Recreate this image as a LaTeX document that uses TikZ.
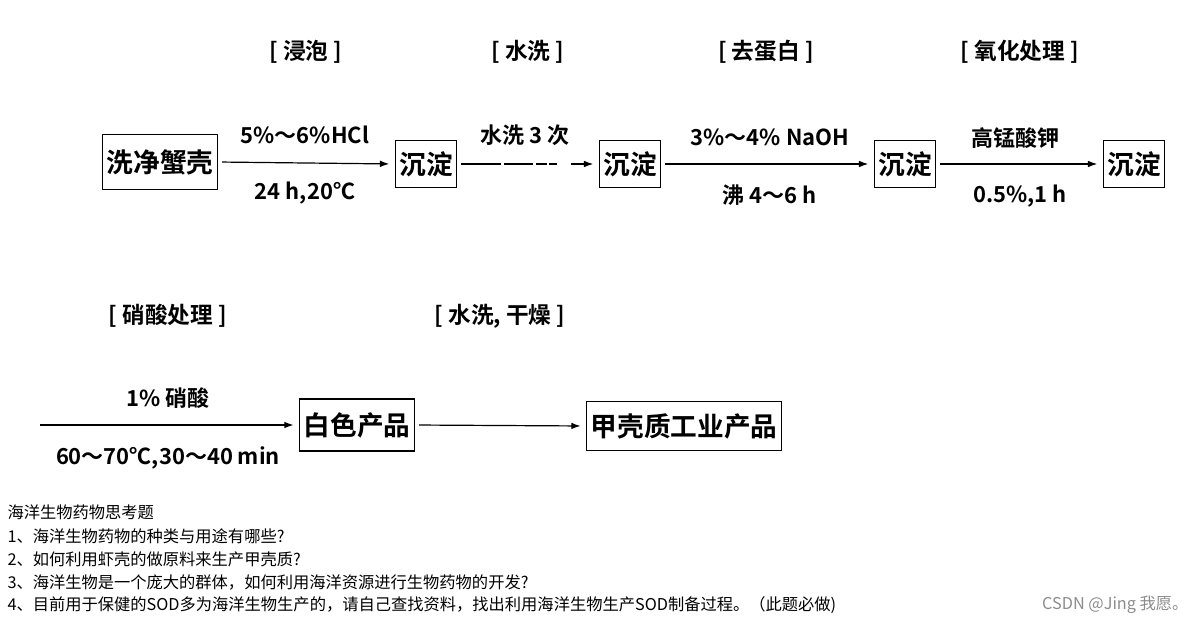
\documentclass[tikz,border=0pt]{standalone}
\usepackage{fontspec}
\newfontfamily\cjk{Noto Sans CJK SC}[BoldFont={Noto Sans CJK SC Bold}]
\usetikzlibrary{arrows.meta}

\tikzset{every picture/.style={line width=0.75pt}}
\tikzset{
  box/.style={draw, line width=1.1pt, inner xsep=3pt, minimum height=35pt, font=\cjk\bfseries\fontsize{20}{24}\selectfont},
  cond/.style={inner sep=0.75pt, font=\cjk\bfseries\fontsize{16.5}{19}\selectfont},
  stage/.style={inner sep=0.75pt, font=\cjk\bfseries\fontsize{17}{20}\selectfont},
  flow/.style={-{Latex[length=7pt,width=5pt]}, line width=0.9pt, shorten <=3pt, shorten >=4pt},
  note/.style={anchor=west, inner sep=0.75pt, font=\cjk\fontsize{12.2}{14}\selectfont},
}

\begin{document}
\begin{tikzpicture}[x=0.75pt,y=0.75pt,yscale=-1,xscale=1]
\useasboundingbox (0,0) rectangle (1199,625); %set diagram to the size of the reference

%Shape: Rectangle [id:wash]
\node [box, minimum height=41pt] (wash) at (160,162) {洗净蟹壳};
%Shape: Rectangle [id:cd1]
\node [box] (cdA) at (426,164) {沉淀};
%Shape: Rectangle [id:cd2]
\node [box] (cdB) at (630,164) {沉淀};
%Shape: Rectangle [id:cd3]
\node [box] (cdC) at (905,164) {沉淀};
%Shape: Rectangle [id:cd4]
\node [box] (cdD) at (1134,164) {沉淀};
%Shape: Rectangle [id:white]
\node [box, minimum height=39pt] (white) at (357,425) {白色产品};
%Shape: Rectangle [id:chitin]
\node [box, minimum height=37pt] (chitin) at (684,426) {甲壳质工业产品};
\coordinate (nitStart) at (40,425);

%Straight Lines [id:flows]
\draw [flow] (wash.east) -- (cdA.west);
\draw [flow, dash pattern={on 30pt off 2pt on 22pt off 2pt on 8pt off 2pt on 6pt off 10pt}] (cdA.east) -- (cdB.west);
\draw [flow] (cdB.east) -- (cdC.west);
\draw [flow] (cdC.east) -- (cdD.west);
\draw [flow, shorten <=0pt] (nitStart) -- (white.west);
\draw [flow] (white.east) -- (chitin.west);

% Text Node
\node [stage] (stSoak) at (306,52) {[ 浸泡 ]};
% Text Node
\node [stage] (stWash) at (528,52) {[ 水洗 ]};
% Text Node
\node [stage] (stProt) at (766,52) {[ 去蛋白 ]};
% Text Node
\node [stage] (stOxid) at (1020,52) {[ 氧化处理 ]};
% Text Node
\node [stage] (stNitr) at (168,316) {[ 硝酸处理 ]};
% Text Node
\node [stage] (stDry) at (500,316) {[ 水洗, 干燥 ]};

% Text Node
\node [cond] (hclTop) at (305,135) {5\%～6\%HCl};
% Text Node
\node [cond] (hclBot) at (305,193) {24 h,20℃};
% Text Node
\node [cond] (washTop) at (525,135) {水洗 3 次};
% Text Node
\node [cond] (naohTop) at (770,137) {3\%～4\% NaOH};
% Text Node
\node [cond] (naohBot) at (770,195) {沸 4～6 h};
% Text Node
\node [cond] (kmnTop) at (1015,138) {高锰酸钾};
% Text Node
\node [cond] (kmnBot) at (1020,196) {0.5\%,1 h};
% Text Node
\node [cond] (nitTop) at (168,398) {1\% 硝酸};
% Text Node
\node [cond] (nitBot) at (168,458) {60～70℃,30～40 min};

% Text Node
\node [note] (qHead) at (6,512) {海洋生物药物思考题};
% Text Node
\node [note] (qOne) at (6,536) {1、海洋生物药物的种类与用途有哪些?};
% Text Node
\node [note] (qTwo) at (6,559) {2、如何利用虾壳的做原料来生产甲壳质?};
% Text Node
\node [note] (qThree) at (6,582) {3、海洋生物是一个庞大的群体，如何利用海洋资源进行生物药物的开发?};
% Text Node
\node [note] (qFour) at (6,605) {4、目前用于保健的SOD多为海洋生物生产的，请自己查找资料，找出利用海洋生物生产SOD制备过程。（此题必做)};
% Text Node
\node [note, anchor=east, text=black!45] (mark) at (1190,605) {CSDN @Jing 我愿。};

\end{tikzpicture}
\end{document}
